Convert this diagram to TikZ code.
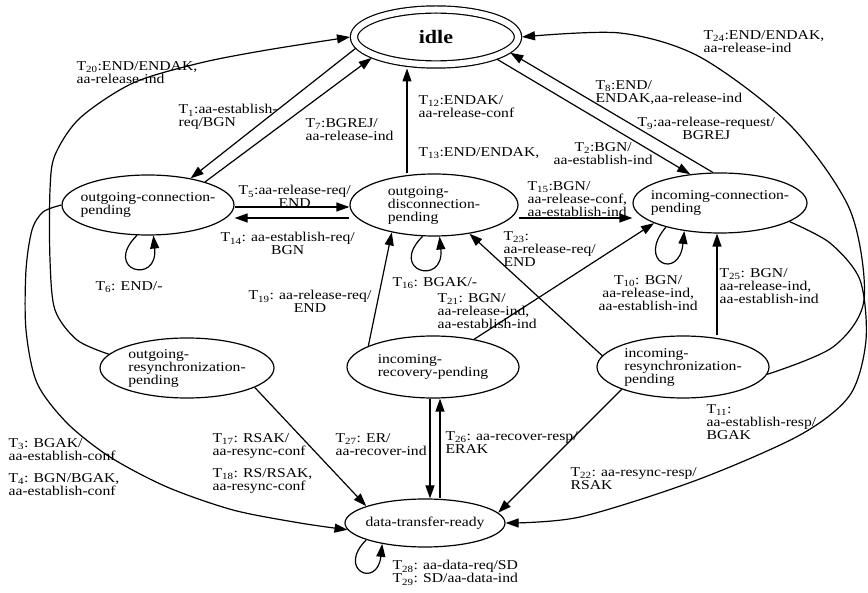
\documentclass[tikz,border=0pt]{standalone}
\usepackage{fontspec}
\setmainfont{Liberation Serif}[FakeStretch=1.16]
\usepackage{tikz}
\usetikzlibrary{shapes,arrows.meta,positioning}
\tikzstyle{arrow} = [->, >={Triangle[length=13pt,width=9pt]}]
\newcommand{\Tn}[1]{T\textsubscript{#1}}

\begin{document}
\begin{tikzpicture}[x=1pt,y=-1pt,line width=1.2pt]
\tikzset{state/.style={ellipse,draw,inner xsep=-20pt,inner ysep=0pt,align=left,
  minimum width=172pt,minimum height=60pt,font=\fontsize{13.5}{13}\selectfont},
  lbl/.style={anchor=north west,align=left,inner sep=0pt,font=\fontsize{13.5}{13}\selectfont}}
\useasboundingbox (0,0) rectangle (868,593);

\node[state,double,double distance=6pt,outer sep=4pt,minimum width=164pt,minimum height=55pt,
  font=\fontsize{19}{20}\selectfont\bfseries] (idle) at (436,37) {idle};
\node[state] (ocp) at (148,205) {outgoing-connection-\\pending};
\node[state,minimum width=168pt,minimum height=62pt] (odp) at (434,205) {outgoing-\\disconnection-\\pending};
\node[state,minimum width=174pt] (icp) at (720,203) {incoming-connection-\\pending};
\node[state,minimum width=174pt] (osp) at (187,368) {outgoing-\\resynchronization-\\pending};
\node[state,minimum height=62pt] (irp) at (433,367) {incoming-\\recovery-pending};
\node[state,minimum height=62pt] (iresp) at (683,367) {incoming-\\resynchronization-\\pending};
\node[state,minimum width=160pt,minimum height=48pt] (dtr) at (425,523) {data-transfer-ready};

\draw[arrow] (idle.188) -- (ocp.32);
\draw[arrow] (ocp.22) -- (idle.198);
\draw[arrow] ([xshift=-27pt]odp.north) -- ([xshift=-29pt]idle.south);
\draw[arrow] (icp.103) -- (idle.348);
\draw[arrow] (idle.340) -- (icp.136);
\draw[arrow] ([yshift=-2pt]ocp.east) -- ([yshift=-2pt]odp.west);
\draw[arrow] ([yshift=-13pt]odp.west) -- ([yshift=-13pt]ocp.east);
\draw[arrow] ([yshift=-13pt]odp.east) -- ([yshift=-13pt]odp.east -| icp.west);
\draw[arrow] (ocp.250) .. controls +(-35,35) and +(5,50) .. (ocp.280);
\draw[arrow] (odp.250) .. controls +(-35,35) and +(5,50) .. (odp.280);
\draw[arrow] (icp.204) .. controls +(-30,35) and +(-5,50) .. (icp.218);
\draw[arrow] (dtr.196) .. controls +(-30,30) and +(-5,45) .. (dtr.206);
\draw[arrow] (irp.162) -- (odp.213);
\draw[arrow] (irp.34) -- (icp.197);
\draw[arrow] (iresp.172) -- (odp.321);
\draw[arrow] ([xshift=34pt]iresp.north) -- ([xshift=-3pt]icp.south);
\draw[arrow] ([xshift=-3pt]irp.south) -- ([xshift=5pt]dtr.north);
\draw[arrow] ([xshift=15pt]dtr.north) -- ([xshift=7pt]irp.south);
\draw[arrow] (osp.344) -- (dtr.164);
\draw[arrow] (iresp.200) -- (dtr.8);
\draw[arrow] plot[smooth] coordinates {(osp.170) (77,340) (55,310) (50,260) (50,190) (55,155)
  (80,118) (133,83) (200,63) (267,50) (idle.180)};
\draw[arrow] plot[smooth] coordinates {(ocp.west) (43,212) (32,230) (26,270) (26,330) (37,383)
  (67,423) (110,457) (167,487) (233,510) (300,523) (dtr.185)};
\draw[arrow] plot[smooth] coordinates {(iresp.355) (833,347) (864,300) (850,210) (790,125)
  (700,57) (620,33) (idle.east)};
\draw[arrow] plot[smooth] coordinates {(icp.345) (830,243) (860,280) (866,340) (850,395)
  (800,435) (697,480) (580,517) (dtr.east)};

\node[lbl] (t20) at (76,61) {\Tn{20}:END/ENDAK,\\aa-release-ind};
\node[lbl] (t1) at (178,104) {\Tn{1}:aa-establish-\\req/BGN};
\node[lbl] (t7) at (305,118) {\Tn{7}:BGREJ/\\aa-release-ind};
\node[lbl] (t12) at (418,95) {\Tn{12}:ENDAK/\\aa-release-conf};
\node[lbl] (t13) at (418,147) {\Tn{13}:END/ENDAK,};
\node[lbl] (t8) at (595,80) {\Tn{8}:END/\\ENDAK,aa-release-ind};
\node[lbl,align=center] (t9) at (637,117) {\Tn{9}:aa-release-request/\\BGREJ};
\node[lbl,align=center] (t2) at (553,142) {\Tn{2}:BGN/\\aa-establish-ind};
\node[lbl] (t24) at (703,30) {\Tn{24}:END/ENDAK,\\aa-release-ind};
\node[lbl,align=center] (t5) at (238,185) {\Tn{5}:aa-release-req/\\END};
\node[lbl,align=center] (t14) at (220,232) {\Tn{14}: aa-establish-req/\\BGN};
\node[lbl] (t15) at (527,181) {\Tn{15}:BGN/\\aa-release-conf,\\aa-establish-ind};
\node[lbl] (t6) at (95,281) {\Tn{6}: END/-};
\node[lbl] (t16) at (392,277) {\Tn{16}: BGAK/-};
\node[lbl] (t23) at (503,231) {\Tn{23}:\\aa-release-req/\\END};
\node[lbl,align=center] (t19) at (248,290) {\Tn{19}: aa-release-req/\\END};
\node[lbl] (t21) at (437,293) {\Tn{21}: BGN/\\aa-release-ind,\\aa-establish-ind};
\node[lbl,align=center] (t10) at (598,275) {\Tn{10}: BGN/\\aa-release-ind,\\aa-establish-ind};
\node[lbl] (t25) at (719,268) {\Tn{25}: BGN/\\aa-release-ind,\\aa-establish-ind};
\node[lbl] (t11) at (706,404) {\Tn{11}:\\aa-establish-resp/\\BGAK};
\node[lbl] (t3) at (8,438) {\Tn{3}: BGAK/\\aa-establish-conf};
\node[lbl] (t4) at (8,473) {\Tn{4}: BGN/BGAK,\\aa-establish-conf};
\node[lbl] (t17) at (212,433) {\Tn{17}: RSAK/\\aa-resync-conf};
\node[lbl] (t18) at (212,468) {\Tn{18}: RS/RSAK,\\aa-resync-conf};
\node[lbl] (t27) at (335,433) {\Tn{27}: ER/\\aa-recover-ind};
\node[lbl] (t26) at (445,431) {\Tn{26}: aa-recover-resp/\\ERAK};
\node[lbl] (t22) at (570,467) {\Tn{22}: aa-resync-resp/\\RSAK};
\node[lbl] (t28) at (392,560) {\Tn{28}: aa-data-req/SD\\\Tn{29}: SD/aa-data-ind};

\end{tikzpicture}
\end{document}
